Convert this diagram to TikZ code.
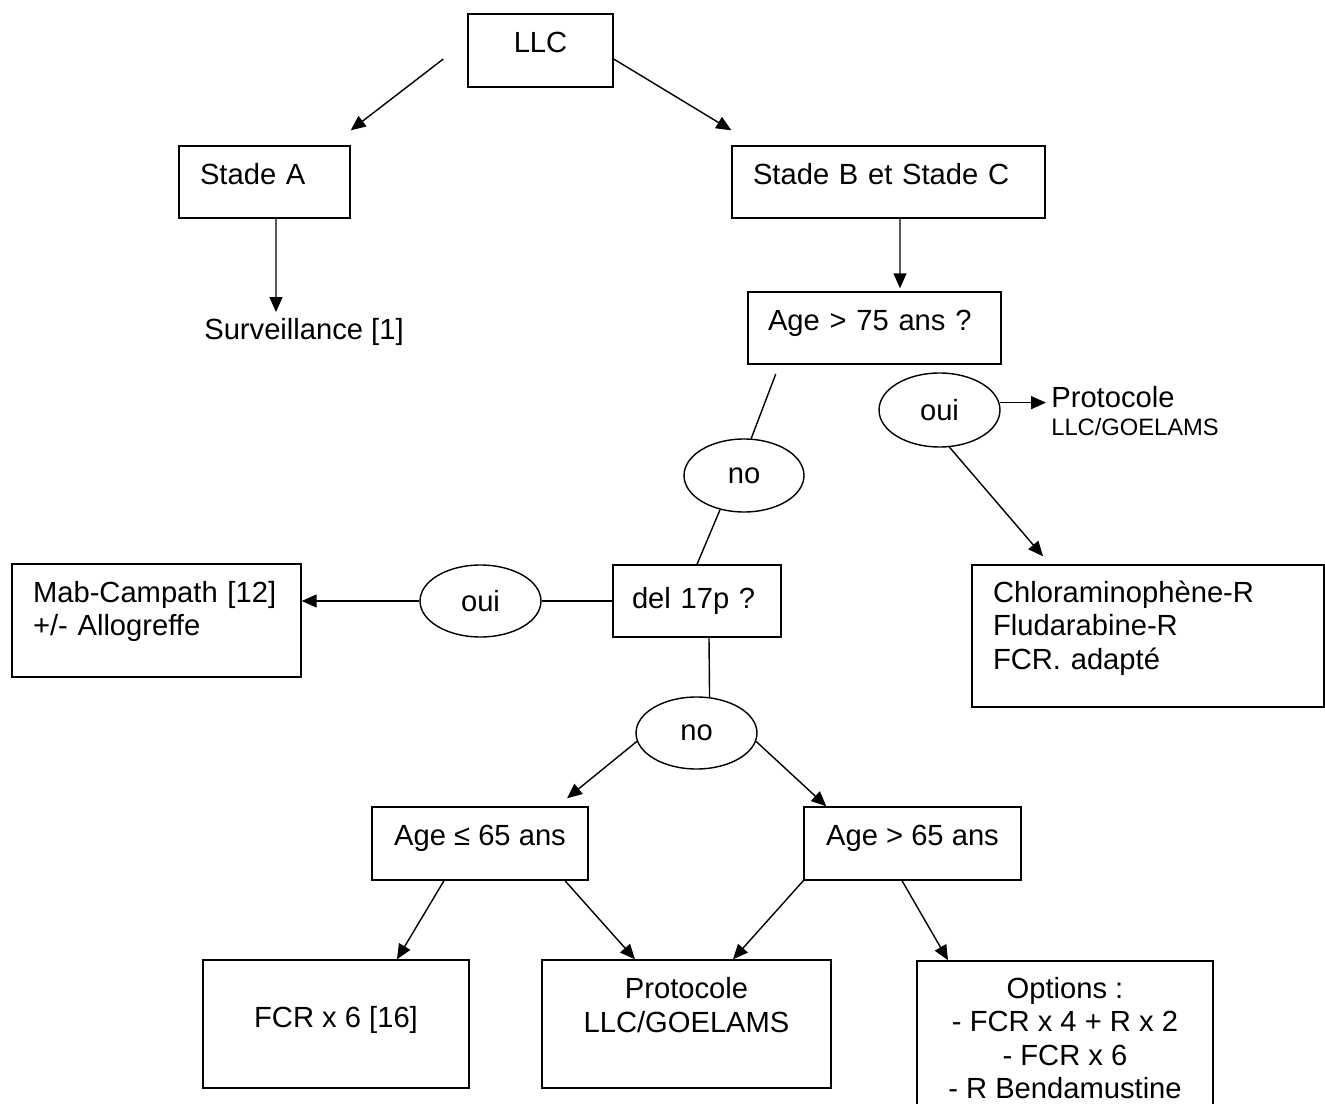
\documentclass[tikz,border=0pt]{standalone}
\usepackage{fontspec}
\setmainfont{Liberation Sans}
\usetikzlibrary{positioning, shapes.geometric, arrows.meta}
\tikzset{
  boite/.style={draw, rectangle, line width=0.8pt, inner sep=0pt, align=center},
  gauche/.style={align=left, text width=#1, inner xsep=0.42cm},
  decal/.style={text height=0.45cm, text depth=#1},
  bulle/.style={draw, ellipse, line width=0.8pt, inner sep=0pt},
  fleche/.style={-{Triangle[length=0.3cm, width=0.26cm]}, line width=0.8pt},
  trait/.style={line width=0.8pt}
}
\begin{document}
\begin{tikzpicture}[x=0.02cm, y=-0.02cm, font=\fontsize{16.6}{19}\selectfont]
                \useasboundingbox (0,0) rectangle (1325,1104);
                \node[boite, decal=0.37cm, minimum width=2.9cm, minimum height=1.46cm] (llc) at (540.5,50.5) {LLC};
                \node[boite, gauche=2.58cm, decal=0.35cm, minimum height=1.44cm] (stadeA) at (264.5,182) {Stade A};
                \node[boite, gauche=5.42cm, decal=0.35cm, minimum height=1.44cm] (stadeBC) at (888.5,182) {Stade B et Stade C};
                \node[inner sep=0.12cm] (surv) at (304,332) {Surveillance [1]};
                \node[boite, gauche=4.26cm, inner xsep=0.4cm, decal=0.35cm, minimum height=1.44cm] (age75) at (874.5,328) {Age > 75 ans ?};
                \node[bulle, minimum width=2.42cm, minimum height=1.48cm] (oui1) at (939.5,410) {oui};
                \node[anchor=west, align=left, inner sep=0.1cm] (proto1) at (1046,411) {Protocole\\[-3.4pt]{\fontsize{13.5}{16}\selectfont LLC/GOELAMS}};
                \node[bulle, minimum width=2.4cm, minimum height=1.46cm] (no1) at (744,475.5) {no};
                \node[boite, gauche=2.6cm, inner xsep=0.38cm, decal=0.15cm, minimum height=1.44cm] (del) at (697,601) {del 17p ?};
                \node[bulle, minimum width=2.42cm, minimum height=1.44cm] (oui2) at (480.5,601) {oui};
                \node[boite, gauche=4.94cm, text depth=1.14cm, minimum height=2.26cm] (mab) at (156.5,620.5) {Mab-Campath [12]\\+/- Allogreffe};
                \node[boite, gauche=6.2cm, text depth=1.78cm, minimum height=2.84cm] (chloro) at (1148,636) {Chloraminophène-R\\Fludarabine-R\\FCR. adapté};
                \node[bulle, minimum width=2.42cm, minimum height=1.44cm] (no2) at (696.5,733) {no};
                \node[boite, decal=0.37cm, minimum width=4.32cm, minimum height=1.46cm] (age65a) at (480,843.5) {Age ≤ 65 ans};
                \node[boite, decal=0.37cm, minimum width=4.34cm, minimum height=1.46cm] (age65b) at (912.5,843.5) {Age > 65 ans};
                \node[boite, decal=0.31cm, minimum width=5.32cm, minimum height=2.56cm] (fcr) at (336,1024) {FCR x 6 [16]};
                \node[boite, text depth=0.76cm, minimum width=5.78cm, minimum height=2.56cm] (proto) at (686.5,1024) {Protocole\\LLC/GOELAMS};
                \node[boite, minimum width=5.92cm, minimum height=3.08cm] (options) at (1065,1038) {Options :\\- FCR x 4 + R x 2\\- FCR x 6\\- R Bendamustine};

                \draw[fleche] ([xshift=-0.48cm, yshift=-0.17cm]llc.west) -- ([yshift=0.3cm]stadeA.north east);
                \draw[fleche] ([yshift=-0.17cm]llc.east) -- ([yshift=0.3cm]stadeBC.north west);
                \draw[fleche] ([xshift=0.23cm]stadeA.south) -- ([xshift=-0.56cm]surv.north);
                \draw[fleche, shorten >=0.06cm] ([xshift=0.23cm]stadeBC.south) -- ([xshift=0.51cm]age75.north);
                \draw[trait, shorten <=0.2cm] ([xshift=0.64cm]age75.south west) -- (no1.79);
                \draw[trait] (no1.235) -- (del.north);
                \draw[fleche] (oui1.7) -- (oui1.7 -| proto1.west);
                \draw[fleche] (oui1.-75) -- ([xshift=-2.1cm, yshift=0.16cm]chloro.north);
                \draw[trait] (del.west) -- (oui2.east);
                \draw[fleche] (oui2.west) -- (oui2.west -| mab.east);
                \draw[trait] ([xshift=0.24cm]del.south) -- (no2.70);
                \draw[fleche] (no2.188) -- ([xshift=1.74cm, yshift=0.16cm]age65a.north);
                \draw[fleche] (no2.-8) -- ([xshift=0.46cm]age65b.north west);
                \draw[fleche] ([xshift=-0.72cm]age65a.south) -- ([xshift=1.22cm]fcr.north);
                \draw[fleche] ([xshift=1.7cm]age65a.south) -- ([xshift=-1.03cm]proto.north);
                \draw[fleche] (age65b.south west) -- ([xshift=0.93cm]proto.north);
                \draw[fleche] ([xshift=-0.21cm]age65b.south) -- ([xshift=-2.34cm]options.north);
            \end{tikzpicture}
\end{document}
